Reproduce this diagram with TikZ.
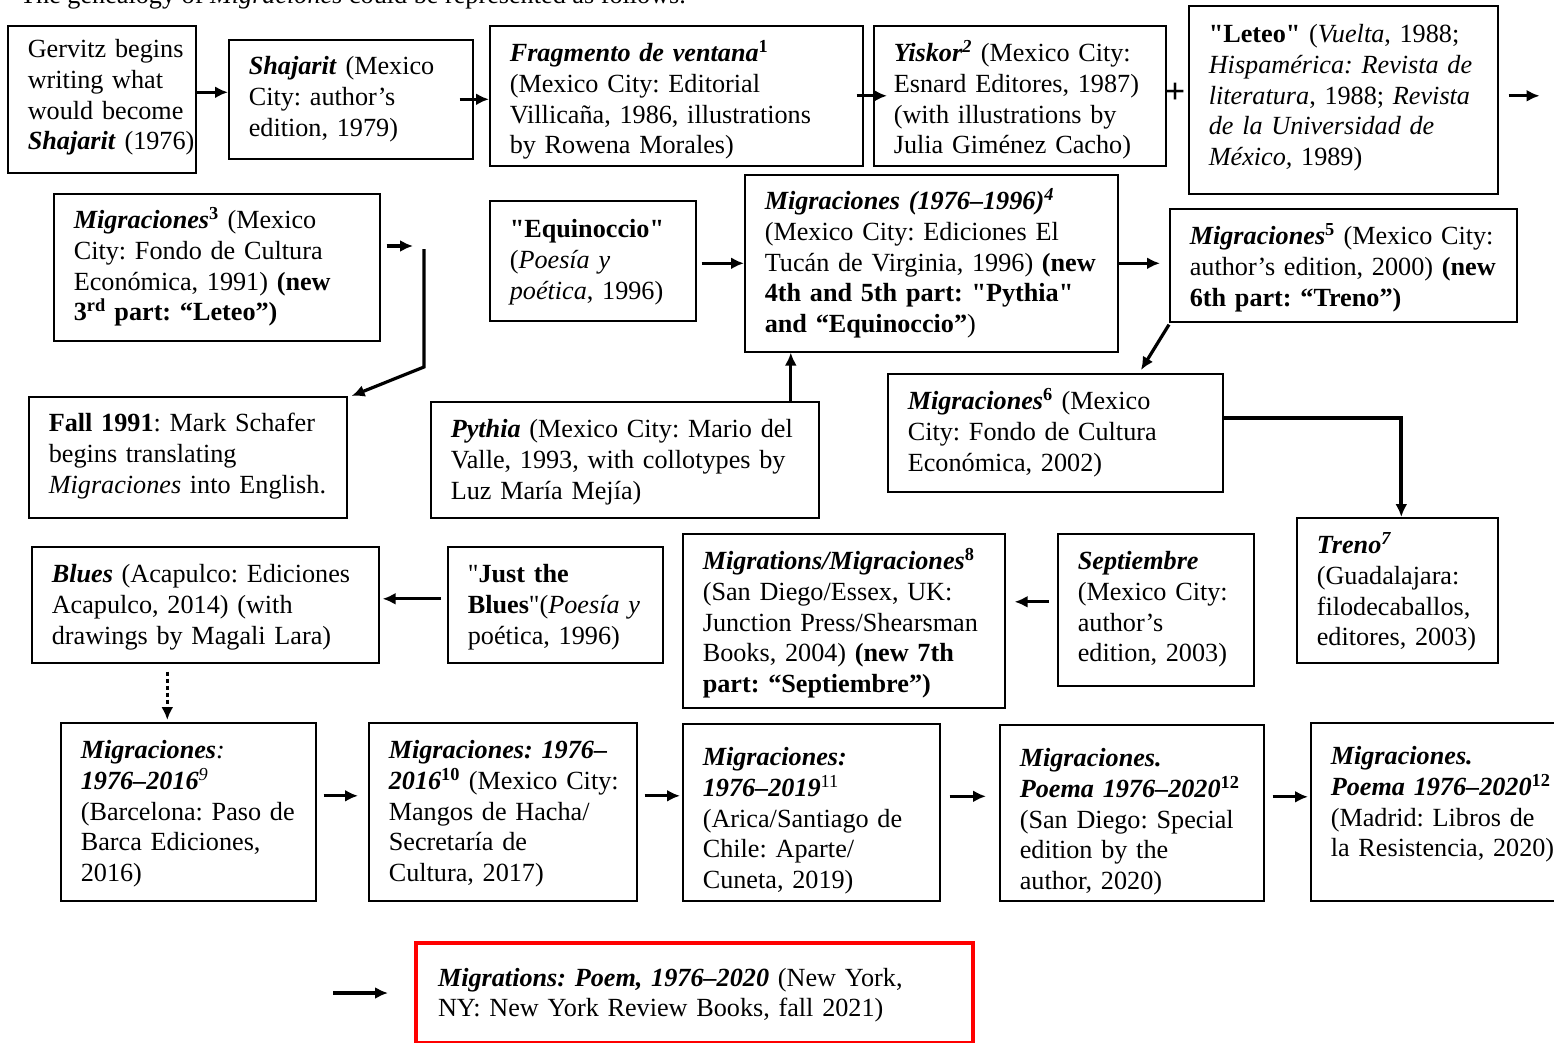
\documentclass[tikz,border=0pt]{standalone}
\usepackage{fontspec}
\setmainfont{Liberation Serif}[Ligatures=TeXOff]
\usetikzlibrary{arrows.meta, positioning, calc}
\newcommand{\bfit}[1]{\textbf{\textit{#1}}}
\newcommand{\bodyfont}{\fontsize{26.2pt}{30.7pt}\selectfont}
\tikzstyle{arrow} = [line width=3.2pt, -{Latex[length=13pt, width=12pt]}]
\tikzset{entry/.style n args={3}{draw, line width=1.6pt, anchor=north west, align=left,
  inner sep=0pt, text width=#1pt, text height=#2pt, text depth=#3pt, font=\bodyfont,
  execute at begin node={\frenchspacing\leftskip=20pt\rightskip=-20pt plus 1fil\relax}}}

\begin{document}
\begin{tikzpicture}[x=1pt, y=-1pt]

\useasboundingbox (0,0) rectangle (1554,1043);
\clip (0,0) rectangle (1554,1043);

\node [anchor=base west, font=\bodyfont, inner sep=0pt] (intro) at (20,4) {The genealogy of \textit{Migraciones} could be represented as follows.};

% First row
\node [entry={188}{32}{115}] (gervitz) at (7,25) {Gervitz begins\\ writing what\\ would become\\ \bfit{Shajarit} (1976)};
\node [entry={244}{35}{84}] (shajarit) at (228,39) {\bfit{Shajarit} (Mexico\\ City: author’s\\ edition, 1979)};
\node [entry={373}{36}{104}] (fragmento) at (489,25) {\bfit{Fragmento de ventana}\textsuperscript{\textbf{1}}\\ (Mexico City: Editorial\\ Villicaña, 1986, illustrations\\ by Rowena Morales)};
\node [entry={292}{36}{104}] (yiskor) at (873,25) {\bfit{Yiskor}\textsuperscript{\bfit{2}} (Mexico City:\\ Esnard Editores, 1987)\\ (with illustrations by\\ Julia Giménez Cacho)};
\node [font=\fontsize{36pt}{36pt}\selectfont\bfseries, inner sep=0pt] (plus) at (1175,93) {+};
\node [entry={309}{37}{151}] (leteo) at (1188,5) {\textbf{"Leteo"} (\textit{Vuelta}, 1988;\\ \textit{Hispamérica: Revista de}\\ \textit{literatura}, 1988; \textit{Revista}\\ \textit{de la Universidad de}\\ \textit{México,} 1989)};

\draw [arrow] ([yshift=7pt]gervitz.east) -- ([yshift=7pt]gervitz.east -| shajarit.west);
\draw [arrow] ([xshift=-14pt]shajarit.east) -- (shajarit.east -| fragmento.west);
\draw [arrow] ([xshift=-7pt]fragmento.east) -- ([xshift=14pt]yiskor.west);
\coordinate (wrapA) at ([xshift=41pt, yshift=4pt]leteo.east);
\draw [arrow] ([xshift=10pt]leteo.east |- wrapA) -- (wrapA);

% Second row
\node [entry={326}{35}{112}] (migrB) at (53,193) {\bfit{Migraciones}\textsuperscript{\textbf{3}} (Mexico\\ City: Fondo de Cultura\\ Económica, 1991) \textbf{(new}\\ \textbf{3\textsuperscript{rd} part: “Leteo”)}};
\node [entry={206}{37}{83}] (equinoccio) at (489,200) {\textbf{"Equinoccio"}\\ (\textit{Poesía y}\\ \textit{poética}, 1996)};
\node [entry={373}{35}{142}] (migrC) at (744,174) {\bfit{Migraciones (1976–1996)\textsuperscript{4}}\\ (Mexico City: Ediciones El\\ Tucán de Virginia, 1996) \textbf{(new}\\ \textbf{4th and 5th part: "Pythia"}\\ \textbf{and “Equinoccio”})};
\node [entry={347}{36}{77}] (migrD) at (1169,208) {\bfit{Migraciones}\textsuperscript{\textbf{5}} (Mexico City:\\ author’s edition, 2000) \textbf{(new}\\ \textbf{6th part: “Treno”)}};

\coordinate (hookA) at (413,246);
\draw [arrow] ([xshift=6pt]migrB.east |- hookA) -- (hookA);
\draw [arrow] ([xshift=5pt]equinoccio.east |- migrC.west) -- (migrC.west);
\draw [arrow] (migrC.east) -- ([xshift=-9pt]migrC.east -| migrD.west);

% Third row
\node [entry={318}{35}{86}] (fall) at (28,396) {\textbf{Fall 1991}: Mark Schafer\\ begins translating\\ \textit{Migraciones} into English.};
\node [entry={388}{36}{80}] (pythia) at (430,401) {\bfit{Pythia} (Mexico City: Mario del\\ Valle, 1993, with collotypes by\\ Luz María Mejía)};
\node [entry={335}{36}{82}] (migrE) at (887,373) {\bfit{Migraciones}\textsuperscript{\textbf{6}} (Mexico\\ City: Fondo de Cultura\\ Económica, 2002)};

\coordinate (hookT) at (424,249);
\coordinate (hookB) at (424,367);
\draw [arrow] (hookT) -- (hookB) -- ([xshift=4pt]fall.north east);
\draw [arrow] ([xshift=166pt]pythia.north) -- ([xshift=166pt]pythia.north |- migrC.south);
\draw [arrow] ([yshift=-2pt]migrD.south west) -- ([xshift=254pt, yshift=3pt]migrE.north west);

% Fourth row
\node [entry={201}{36}{109}] (treno) at (1296,517) {\bfit{Treno}\textsuperscript{\bfit{7}}\\ (Guadalajara:\\ filodecaballos,\\ editores, 2003)};
\node [entry={196}{36}{116}] (septiembre) at (1057,533) {\bfit{Septiembre}\\ (Mexico City:\\ author’s\\ edition, 2003)};
\node [entry={322}{36}{138}] (migrF) at (682,533) {\bfit{Migrations/Migraciones}\textsuperscript{\textbf{8}}\\ (San Diego/Essex, UK:\\ Junction Press/Shearsman\\ Books, 2004) \textbf{(new 7th}\\ \textbf{part: “Septiembre”)}};
\node [entry={215}{36}{80}] (justblues) at (447,546) {"\textbf{Just the}\\ \textbf{Blues}"(\textit{Poesía y}\\ poética, 1996)};
\node [entry={347}{36}{80}] (blues) at (31,546) {\bfit{Blues} (Acapulco: Ediciones\\ Acapulco, 2014) (with\\ drawings by Magali Lara)};

\draw [arrow, line width=3.8pt] ([yshift=15pt]migrE.east) -| ([xshift=4pt]treno.north);
\draw [arrow] ([xshift=-8pt, yshift=8pt]septiembre.west) -- ([xshift=9pt, yshift=8pt]septiembre.west -| migrF.east);
\draw [arrow] ([xshift=-6pt, yshift=6pt]justblues.west) -- ([xshift=3pt, yshift=6pt]blues.east);

% Fifth row
\node [entry={255}{36}{142}] (migrG) at (60,722) {\bfit{Migraciones}\textit{:}\\ \bfit{1976–2016}\textsuperscript{\textit{9}}\\ (Barcelona: Paso de\\ Barca Ediciones,\\ 2016)};
\node [entry={268}{36}{142}] (migrH) at (368,722) {\bfit{Migraciones: 1976–}\\ \bfit{2016}\textsuperscript{\textbf{10}} (Mexico City:\\ Mangos de Hacha/\\ Secretaría de\\ Cultura, 2017)};
\node [entry={257}{42}{135}] (migrI) at (682,723) {\bfit{Migraciones:}\\ \bfit{1976–2019}\textsuperscript{11}\\ (Arica/Santiago de\\ Chile: Aparte/\\ Cuneta, 2019)};
\node [entry={264}{42}{134}] (migrJ) at (999,724) {\bfit{Migraciones.}\\ \bfit{Poema 1976–2020}\textsuperscript{\textbf{12}}\\ (San Diego: Special\\ edition by the\\ author, 2020)};
\node [entry={246}{42}{136}] (migrK) at (1310,722) {\bfit{Migraciones.}\\ \bfit{Poema 1976–2020}\textsuperscript{\textbf{12}}\\ (Madrid: Libros de\\ la Resistencia, 2020)};

\draw [arrow, dash pattern=on 4pt off 3pt] ([xshift=-38pt, yshift=-8pt]blues.south) -- ([xshift=-38pt, yshift=2pt]blues.south |- migrG.north);
\draw [arrow] ([xshift=7pt, yshift=16pt]migrG.east) -- ([xshift=-10pt, yshift=16pt]migrG.east -| migrH.west);
\draw [arrow] ([xshift=7pt, yshift=16pt]migrH.east) -- ([xshift=-2pt, yshift=16pt]migrH.east -| migrI.west);
\draw [arrow] ([xshift=9pt, yshift=16pt]migrI.east) -- ([xshift=-13pt, yshift=16pt]migrI.east -| migrJ.west);
\draw [arrow] ([xshift=8pt, yshift=16pt]migrJ.east) -- ([xshift=-2pt, yshift=16pt]migrJ.east -| migrK.west);

% Last edition
\node [entry={557}{43}{57}, draw=red, line width=4pt, execute at begin node={\leftskip=22pt\relax}] (nyrb) at (414,941) {\bfit{Migrations: Poem, 1976–2020} (New York,\\ NY: New York Review Books, fall 2021)};
\coordinate (wrapD) at (333,993);
\draw [arrow] (wrapD) -- ([xshift=-26pt]wrapD -| nyrb.west);

\end{tikzpicture}
\end{document}
